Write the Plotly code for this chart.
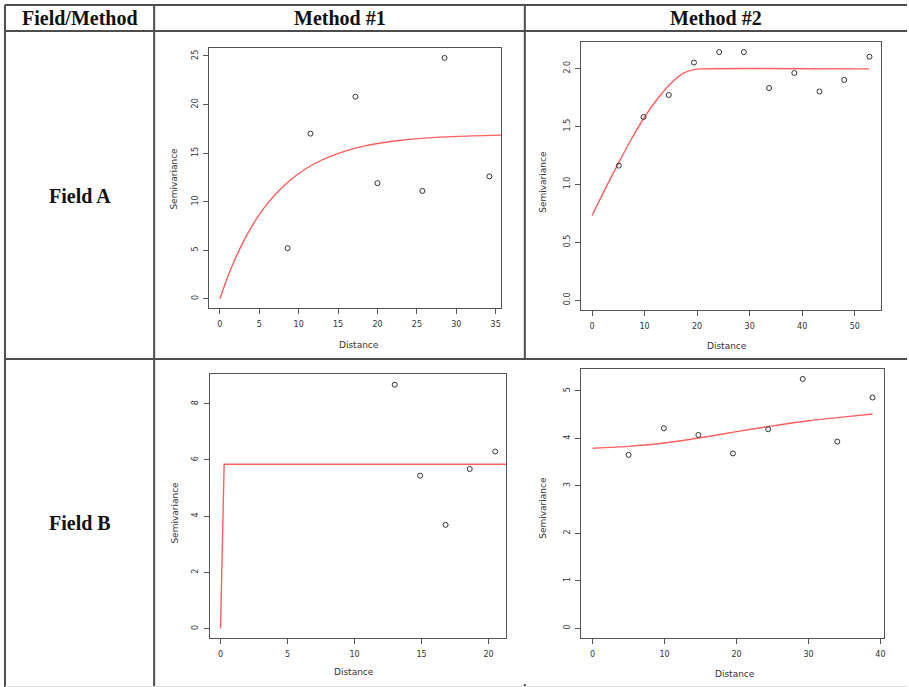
import plotly.graph_objects as go

W, H = 909, 687


def fx(px):
    return px / W


def fy(py):
    return 1 - py / H


# ---------------- data ----------------
header_labels = ["Field/Method", "Method #1", "Method #2"]
row_labels = ["Field A", "Field B"]

# Field A, Method #1
a1_dist = [8.6, 11.5, 17.2, 20.0, 25.7, 28.5, 34.2]
a1_semi = [5.2, 17.0, 20.8, 11.9, 11.1, 24.8, 12.6]
a1_fit_dist = [0, 1, 2, 3, 4, 5, 6, 7, 8, 10, 12, 14, 16, 18, 20, 23, 26, 30, 35.7]
a1_fit_semi = [0, 2.26, 4.21, 5.91, 7.38, 8.65, 9.76, 10.71, 11.54, 12.89, 13.90,
               14.66, 15.23, 15.66, 15.98, 16.32, 16.54, 16.72, 16.85]

# Field A, Method #2
a2_dist = [5.1, 9.8, 14.6, 19.4, 24.2, 28.9, 33.7, 38.5, 43.3, 48.0, 52.8]
a2_semi = [1.16, 1.58, 1.77, 2.05, 2.14, 2.14, 1.83, 1.96, 1.80, 1.90, 2.10]
a2_fit_dist = [0, 2.5, 5, 7.5, 10, 12.5, 15, 17.5, 19, 20.5, 52.8]
a2_fit_semi = [0.73, 0.96, 1.18, 1.39, 1.58, 1.74, 1.87, 1.96, 1.985, 1.995, 1.995]

# Field B, Method #1
b1_dist = [13.0, 14.9, 16.8, 18.6, 20.5]
b1_semi = [8.68, 5.44, 3.69, 5.68, 6.30]
b1_fit_dist = [0, 0.27, 21.3]
b1_fit_semi = [0, 5.85, 5.85]

# Field B, Method #2
b2_dist = [5.0, 9.9, 14.7, 19.5, 24.4, 29.2, 34.0, 38.9]
b2_semi = [3.65, 4.21, 4.07, 3.68, 4.19, 5.25, 3.93, 4.86]
b2_fit_dist = [0, 5, 10, 15, 20, 25, 30, 35, 38.9]
b2_fit_semi = [3.79, 3.83, 3.90, 4.01, 4.14, 4.26, 4.37, 4.45, 4.51]

# ticks
a1_xticks = [0, 5, 10, 15, 20, 25, 30, 35]
a1_yticks = [0, 5, 10, 15, 20, 25]
a2_xticks = [0, 10, 20, 30, 40, 50]
a2_yticks = [0.0, 0.5, 1.0, 1.5, 2.0]
b1_xticks = [0, 5, 10, 15, 20]
b1_yticks = [0, 2, 4, 6, 8]
b2_xticks = [0, 10, 20, 30, 40]
b2_yticks = [0, 1, 2, 3, 4, 5]

x_title = "Distance"
y_title = "Semivariance"

# ---------------- layout geometry ----------------
panels = [
    dict(frame=(209.3, 502.3, 48.3, 308.3), xr=[-1.4, 35.7], yr=[-0.99, 25.79],
         xt=a1_xticks, yt=a1_yticks, yfmt="", pts=(a1_dist, a1_semi),
         fit=(a1_fit_dist, a1_fit_semi), shape="spline",
         xlab=(360, 345), ylab=(174, 179)),
    dict(frame=(582.3, 882.7, 41.7, 310.0), xr=[-2.1, 54.95], yr=[-0.086, 2.23],
         xt=a2_xticks, yt=a2_yticks, yfmt=".1f", pts=(a2_dist, a2_semi),
         fit=(a2_fit_dist, a2_fit_semi), shape="spline",
         xlab=(729, 346), ylab=(544, 182)),
    dict(frame=(210.0, 507.3, 374.3, 638.3), xr=[-0.82, 21.32], yr=[-0.348, 9.05],
         xt=b1_xticks, yt=b1_yticks, yfmt="", pts=(b1_dist, b1_semi),
         fit=(b1_fit_dist, b1_fit_semi), shape="linear",
         xlab=(355, 672), ylab=(175, 513)),
    dict(frame=(582.7, 885.7, 369.0, 638.0), xr=[-1.556, 40.46], yr=[-0.21, 5.46],
         xt=b2_xticks, yt=b2_yticks, yfmt="", pts=(b2_dist, b2_semi),
         fit=(b2_fit_dist, b2_fit_semi), shape="spline",
         xlab=(737, 674), ylab=(544, 508)),
]

fig = go.Figure()
tick_font = dict(family="DejaVu Sans", size=8, color="#333333")
title_font = dict(family="DejaVu Sans", size=9, color="#333333")

layout_axes = {}
annotations = []
for i, p in enumerate(panels, start=1):
    x0, x1, y0, y1 = p["frame"]
    xa = "x" if i == 1 else f"x{i}"
    ya = "y" if i == 1 else f"y{i}"
    xkey = "xaxis" if i == 1 else f"xaxis{i}"
    ykey = "yaxis" if i == 1 else f"yaxis{i}"
    layout_axes[xkey] = dict(
        domain=[fx(x0), fx(x1)], range=p["xr"], anchor=ya,
        tickvals=p["xt"], ticks="outside", ticklen=5, tickcolor="#555555",
        tickwidth=1, showline=True, mirror=True, linecolor="#555555",
        linewidth=1, showgrid=False, zeroline=False, tickfont=tick_font,
        ticklabelstandoff=3, fixedrange=True,
    )
    layout_axes[ykey] = dict(
        domain=[fy(y1), fy(y0)], range=p["yr"], anchor=xa,
        tickvals=p["yt"], tickformat=p["yfmt"], ticks="outside", ticklen=5,
        tickcolor="#555555", tickwidth=1, showline=True, mirror=True,
        linecolor="#555555", linewidth=1, showgrid=False, zeroline=False,
        tickfont=tick_font, tickangle=-90, ticklabelstandoff=2,
        fixedrange=True,
    )
    line_kw = dict(color="rgb(255,95,95)", width=1.4, shape=p["shape"])
    if p["shape"] == "spline":
        line_kw["smoothing"] = 0.6
    fig.add_trace(go.Scatter(
        x=p["fit"][0], y=p["fit"][1], mode="lines", xaxis=xa, yaxis=ya,
        line=line_kw, hoverinfo="skip",
    ))
    fig.add_trace(go.Scatter(
        x=p["pts"][0], y=p["pts"][1], mode="markers", xaxis=xa, yaxis=ya,
        marker=dict(symbol="circle-open", size=5, color="#333333",
                    line=dict(width=1, color="#333333")),
    ))
    annotations.append(dict(
        text=x_title, x=fx(p["xlab"][0]), y=fy(p["xlab"][1]), xref="paper",
        yref="paper", showarrow=False, font=title_font,
        xanchor="center", yanchor="middle",
    ))
    annotations.append(dict(
        text=y_title, x=fx(p["ylab"][0]), y=fy(p["ylab"][1]), xref="paper",
        yref="paper", showarrow=False, font=title_font, textangle=-90,
        xanchor="center", yanchor="middle",
    ))

# table texts
head_font = dict(family="Liberation Serif", size=20, color="#111111")
header_x = [80, 340.5, 718]
for lbl, cx in zip(header_labels, header_x):
    annotations.append(dict(
        text=f"<b>{lbl}</b>", x=fx(cx), y=fy(18), xref="paper", yref="paper",
        showarrow=False, font=head_font, xanchor="center", yanchor="middle",
    ))
row_y = [196, 523]
for lbl, cy in zip(row_labels, row_y):
    annotations.append(dict(
        text=f"<b>{lbl}</b>", x=fx(80), y=fy(cy), xref="paper", yref="paper",
        showarrow=False, font=head_font, xanchor="center", yanchor="middle",
    ))

# table lines
line_col = "#4d4d4d"
segments = [
    (5, 5, 909, 5),        # top
    (5, 31, 909, 31),      # header bottom
    (5, 359, 909, 359),    # row divider
    (5, 5, 5, 687),        # left border
    (154.5, 5, 154.5, 687),  # first column divider
    (526, 5, 526, 359),    # second column divider (row 1)
    (526, 684, 526, 687),  # second column divider (bottom stub)
]
shapes = []
for (xa_, ya_, xb_, yb_) in segments:
    shapes.append(dict(type="line", xref="paper", yref="paper",
                       x0=fx(xa_), y0=fy(ya_), x1=fx(xb_), y1=fy(yb_),
                       line=dict(color=line_col, width=2)))
shapes.append(dict(type="line", xref="paper", yref="paper",
                   x0=fx(5), y0=fy(686.5), x1=fx(909), y1=fy(686.5),
                   line=dict(color="#dddddd", width=1)))

fig.update_layout(
    width=W, height=H, margin=dict(l=0, r=0, t=0, b=0),
    paper_bgcolor="white", plot_bgcolor="white", showlegend=False,
    annotations=annotations, shapes=shapes, **layout_axes,
)

fig.write_html(
    "out.html",
    config={"displayModeBar": False},
    post_script="document.body.style.margin='0';document.body.style.overflow='hidden';",
)
